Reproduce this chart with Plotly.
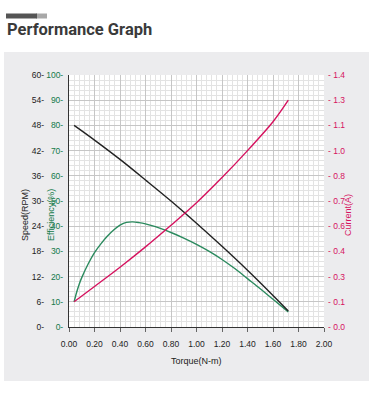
import plotly.graph_objects as go

# ---- data ----
torque_speed = [0.04, 0.2, 0.4, 0.6, 0.8, 1.0, 1.2, 1.4, 1.6, 1.72]
speed_rpm = [48.0, 44.5, 39.9, 35.0, 30.0, 24.7, 19.2, 13.5, 7.5, 3.8]

torque_eff = [0.04, 0.06, 0.08, 0.1, 0.15, 0.2, 0.25, 0.3, 0.35, 0.4, 0.45, 0.5, 0.55, 0.6, 0.65, 0.7, 0.8, 0.9, 1.0, 1.1, 1.2, 1.3, 1.4, 1.5, 1.6, 1.72]
efficiency = [10, 13.8, 17.0, 19.6, 25.0, 29.5, 33.0, 36.0, 38.5, 40.4, 41.5, 41.7, 41.4, 40.9, 40.2, 39.4, 37.5, 35.3, 32.8, 30.0, 26.8, 23.2, 19.2, 15.2, 11.0, 6.0]

torque_cur = [0.04, 0.2, 0.4, 0.6, 0.8, 1.0, 1.2, 1.4, 1.6, 1.72]
current_a = [0.14, 0.225, 0.332, 0.445, 0.565, 0.69, 0.83, 0.98, 1.14, 1.26]

x_ticks = [0.0, 0.2, 0.4, 0.6, 0.8, 1.0, 1.2, 1.4, 1.6, 1.8, 2.0]
x_labels = ["0.00", "0.20", "0.40", "0.60", "0.80", "1.00", "1.20", "1.40", "1.60", "1.80", "2.00"]
speed_ticks = [0, 6, 12, 18, 24, 30, 36, 42, 48, 54, 60]
eff_ticks = [0, 10, 20, 30, 40, 50, 60, 70, 80, 90, 100]
cur_ticks = [0.0, 0.14, 0.28, 0.42, 0.56, 0.7, 0.84, 0.98, 1.12, 1.26, 1.4]
cur_labels = ["0.0", "0.1", "0.3", "0.4", "0.6", "0.7", "0.8", "1.0", "1.1", "1.3", "1.4"]

GREEN = "#13794a"
GREEN_LINE = "#2b8a5e"
PINK = "#d6135f"
DARK = "#222222"
FONT = "Liberation Sans"

fig = go.Figure()
fig.add_trace(go.Scatter(x=torque_eff, y=efficiency, mode="lines", line=dict(color=GREEN_LINE, width=1.4, shape="spline", smoothing=1.0),
                         yaxis="y", hoverinfo="skip", showlegend=False))
fig.add_trace(go.Scatter(x=torque_speed, y=speed_rpm, mode="lines", line=dict(color=DARK, width=1.4, shape="spline"),
                         yaxis="y2", hoverinfo="skip", showlegend=False))
fig.add_trace(go.Scatter(x=torque_cur, y=current_a, mode="lines", line=dict(color=PINK, width=1.4, shape="spline"),
                         yaxis="y3", hoverinfo="skip", showlegend=False))

L, R, T, B = 69, 56, 75, 70
W, H = 380, 397
pw, ph = W - L - R, H - T - B

def px(x):
    return (x - L) / pw

def py(y):
    return (H - B - y) / ph

fig.update_layout(
    width=W, height=H,
    margin=dict(l=L, r=R, t=T, b=B, pad=0, autoexpand=False),
    paper_bgcolor="white",
    plot_bgcolor="white",
    font=dict(family=FONT, size=8.5, color="#222"),
    xaxis=dict(range=[0, 2.0], tickvals=x_ticks, ticktext=x_labels, showgrid=True,
               gridcolor="#c6c6c6", gridwidth=1, automargin=False,
               minor=dict(dtick=0.04, showgrid=True, gridcolor="#e3e3e3", gridwidth=1, ticks=""),
               showline=True, linecolor="#333", linewidth=1.2,
               ticks="outside", ticklen=4, tickcolor="#666", ticklabelstandoff=5,
               zeroline=False, fixedrange=True),
    yaxis=dict(range=[0, 100], tickvals=eff_ticks, ticktext=[f"{v}-" for v in eff_ticks],
               tickfont=dict(color=GREEN, size=8.5), showgrid=True, gridcolor="#c6c6c6",
               minor=dict(dtick=2, showgrid=True, gridcolor="#e3e3e3", gridwidth=1, ticks=""),
               showline=True, linecolor="#333", linewidth=1.2, automargin=False,
               ticks="", ticklabelstandoff=3, zeroline=False, fixedrange=True),
    yaxis2=dict(range=[0, 60], tickvals=speed_ticks, ticktext=[f"{v}-" for v in speed_ticks],
                tickfont=dict(color="#222", size=8.5), overlaying="y", side="left",
                anchor="free", position=0, showgrid=False, showline=False, ticks="",
                automargin=False, ticklabelstandoff=25, zeroline=False, fixedrange=True),
    yaxis3=dict(range=[0, 1.4], tickvals=cur_ticks, ticktext=[f"- {t}" for t in cur_labels],
                tickfont=dict(color=PINK, size=8.5), overlaying="y", side="right",
                anchor="x", showgrid=False, showline=False, ticks="", automargin=False,
                ticklabelstandoff=3, zeroline=False, fixedrange=True),
)

shapes = [
    dict(type="rect", xref="paper", yref="paper", x0=px(4), x1=px(369), y0=py(381), y1=py(52),
         fillcolor="#ececee", line=dict(width=0), layer="below"),
    dict(type="rect", xref="paper", yref="paper", x0=0, x1=1, y0=0, y1=1,
         fillcolor="white", line=dict(width=0), layer="below"),
    dict(type="rect", xref="paper", yref="paper", x0=px(36), x1=px(47), y0=py(18.5), y1=py(13.5),
         fillcolor="#a8a8a8", line=dict(width=0), layer="above"),
    dict(type="rect", xref="paper", yref="paper", x0=px(6), x1=px(37), y0=py(18.5), y1=py(13.5),
         fillcolor="#555555", line=dict(width=0), layer="above"),
]
fig.update_layout(shapes=shapes)

anns = [
    dict(text="<b>Performance Graph</b>", x=px(5), y=py(30), xref="paper", yref="paper",
         xanchor="left", yanchor="middle", showarrow=False,
         font=dict(family="Roboto", size=16.5, color="#3a3a3a")),
    dict(text="Torque(N-m)", x=px(196), y=py(361), xref="paper", yref="paper",
         xanchor="center", yanchor="middle", showarrow=False, font=dict(size=9, color="#222")),
    dict(text="Speed(RPM)", x=px(25), y=py(215), xref="paper", yref="paper", textangle=-90,
         xanchor="center", yanchor="middle", showarrow=False, font=dict(size=9, color="#222")),
    dict(text="Efficiency(%)", x=px(51), y=py(215), xref="paper", yref="paper", textangle=-90,
         xanchor="center", yanchor="middle", showarrow=False, font=dict(size=9, color=GREEN)),
    dict(text="Current(A)", x=px(348), y=py(215), xref="paper", yref="paper", textangle=-90,
         xanchor="center", yanchor="middle", showarrow=False, font=dict(size=9, color=PINK)),
]
fig.update_layout(annotations=anns)

fig.write_html("out.html", config={"displayModeBar": False},
               post_script="document.body.style.margin='0';document.body.style.overflow='hidden';")
